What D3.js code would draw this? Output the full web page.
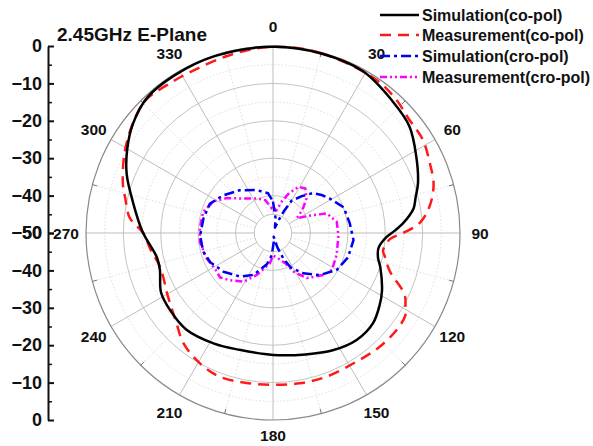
<!DOCTYPE html>
<html><head><meta charset="utf-8">
<script src="https://cdn.jsdelivr.net/npm/d3@7"></script>
<style>
html,body{margin:0;padding:0;background:#fff;}
svg{display:block;}
text{font-family:"Liberation Sans",Arial,sans-serif;font-weight:bold;fill:#111;}
</style></head>
<body>
<svg id="chart" width="593" height="446"></svg>
<script>
// ---- data (angle in degrees clockwise from top, value in dB) ----
const title = "2.45GHz E-Plane";
const seriesNames = ["Simulation(co-pol)","Measurement(co-pol)","Simulation(cro-pol)","Measurement(cro-pol)"];
const angleLabels = [0,30,60,90,120,150,180,210,240,270,300,330];
const radialTicks = [0,-10,-20,-30,-40,-50];

const simCoAngles = [0,15,29,42,52,62,71,76,80,83,86,89,92,98,103,108,118,124,132,142,153,165,180,196,208,222,233,242,252,258,267,271,282,292,300,308,317,328,342];
const simCoValues = [-0.2,-0.3,-0.5,-2.4,-3.7,-6.6,-9,-10.7,-11.8,-13.4,-15.3,-17.5,-19.6,-21.5,-21.2,-19.8,-17,-15.6,-14,-13.7,-14.8,-16.4,-17.4,-17.5,-16.5,-15.3,-15.6,-16.1,-18.2,-18.3,-16.2,-15,-11.8,-7.8,-5,-2.5,-0.6,-0.3,-0.2];

const measCoAngles = [0,15,34,43,50,58,66,73,80,86,90,93,99,102,108,115,119,122,128,137,147,160,170,180,190,200,209,219,228,239,253,262,270,276,283,288,298,307,316,324,334,347];
const measCoValues = [-0.2,-0.2,-0.6,-1.5,-2.6,-2.8,-4.1,-5.1,-7.4,-10.6,-15.2,-18.7,-20.2,-19.4,-17.2,-11.2,-9.5,-8.3,-8,-8.3,-9,-9,-9.2,-9.4,-9.3,-9,-10,-12,-15,-17.2,-18.5,-17,-15.3,-11.5,-9.5,-7.8,-5,-2.7,-0.8,-1.3,-1.6,-1];

const simCroAngles = [0,10,20,25,27,30,38,45,52,59,70,83,95,108,120,132,143,153,158,163,170,176,183,191,205,217,232,245,255,268,282,295,307,322,339,353];
const simCroValues = [-41.6,-46,-48.5,-45,-43,-40,-37.5,-34.9,-33.5,-32.2,-29.9,-29.3,-28.4,-28.9,-30.3,-33.2,-36.5,-39.7,-42.7,-46,-49,-47.5,-44.1,-41.5,-37.6,-35.4,-33.2,-31.5,-30.7,-30.5,-31,-31.4,-33.3,-35.5,-37.7,-39.3];

const measCroAngles = [0,8,16,22,29,36,44,52,58,66,70,80,92,109,122,130,143,152,158,168,180,186,201,211,222,230,238,249,263,274,287,298,307,319,335,347,357];
const measCroValues = [-43,-44,-41,-38.5,-35.9,-35.3,-37.1,-40,-42.5,-38.2,-34.7,-32.7,-32.5,-32,-31.4,-32.5,-34.9,-38.3,-41.3,-43,-44,-41.8,-38,-34.8,-33,-31.5,-31.8,-31,-30.3,-30.4,-30.5,-32,-34.5,-37.8,-39.8,-41,-43.4];

// ---- layout ----
const cx = 273, cy = 233, R = 187;
const svg = d3.select("#chart");
const rScale = d3.scaleLinear().domain([-50, 0]).range([0, R]);
const g = svg.append("g").attr("transform", `translate(${cx},${cy})`);
const rad = a => (a - 90) * Math.PI / 180;

// grid circles
const solidCircles = [-45,-40,-30,-20,-10];
const dotCircles = [-35,-25,-15,-5];
g.selectAll("circle.solid").data(solidCircles).join("circle")
  .attr("r", d => rScale(d)).attr("fill","none").attr("stroke","#c4c4c4").attr("stroke-width",1);
g.selectAll("circle.dot").data(dotCircles).join("circle")
  .attr("r", d => rScale(d)).attr("fill","none").attr("stroke","#d4d4d4").attr("stroke-width",0.8).attr("stroke-dasharray","1.5,2");
// spokes
const spokeAngles = d3.range(0, 360, 15);
g.selectAll("line.spoke").data(spokeAngles).join("line")
  .attr("x1", a => rScale(-45)*Math.cos(rad(a))).attr("y1", a => rScale(-45)*Math.sin(rad(a)))
  .attr("x2", a => R*Math.cos(rad(a))).attr("y2", a => R*Math.sin(rad(a)))
  .attr("stroke", a => a % 30 === 0 ? "#bdbdbd" : "#d4d4d4")
  .attr("stroke-width", a => a % 30 === 0 ? 1 : 0.8)
  .attr("stroke-dasharray", a => a % 30 === 0 ? null : "1.5,2");
// outer circle
g.append("circle").attr("r", R).attr("fill","none").attr("stroke","#8a8a8a").attr("stroke-width",1.2);
// outer minor ticks
g.selectAll("line.otick").data(spokeAngles.filter(a => a % 30 !== 0)).join("line")
  .attr("x1", a => R*Math.cos(rad(a))).attr("y1", a => R*Math.sin(rad(a)))
  .attr("x2", a => (R-5)*Math.cos(rad(a))).attr("y2", a => (R-5)*Math.sin(rad(a)))
  .attr("stroke","#777").attr("stroke-width",1);

// angle labels
g.selectAll("text.alab").data(angleLabels).join("text")
  .attr("x", a => 207*Math.cos(rad(a))).attr("y", a => (a === 180 ? 202 : 207)*Math.sin(rad(a)))
  .attr("text-anchor","middle").attr("dominant-baseline","central")
  .attr("font-size", 15.5).text(a => a);

// ---- series ----
function pts(angles, values){ return angles.map((a,i) => ({a, v: values[i]})); }
const series = [
  {data: pts(simCoAngles, simCoValues), color:"#000000", dash:null, curve:d3.curveCatmullRomClosed.alpha(0.5)},
  {data: pts(measCoAngles, measCoValues), color:"#ff1a1a", dash:"11,7", curve:d3.curveCatmullRomClosed.alpha(0.5)},
  {data: pts(simCroAngles, simCroValues), color:"#0000ee", dash:"10,4,3,4", curve:d3.curveLinearClosed},
  {data: pts(measCroAngles, measCroValues), color:"#ff00ff", dash:"7,3,2,3,2,3", curve:d3.curveLinearClosed}
];
const drawOrder = [3,2,1,0];
drawOrder.forEach(i => {
  const s = series[i];
  const line = d3.lineRadial()
    .angle(d => d.a * Math.PI / 180)
    .radius(d => rScale(Math.max(-50, d.v)))
    .curve(s.curve);
  g.append("path").attr("d", line(s.data))
    .attr("fill","none").attr("stroke", s.color).attr("stroke-width", 2.5)
    .attr("stroke-dasharray", s.dash).attr("stroke-linejoin","round");
});

// ---- left radial axis ----
const axX = 48;
const yTop = d3.scaleLinear().domain([-50, 0]).range([cy, cy - R]);
const yBot = d3.scaleLinear().domain([-50, 0]).range([cy, cy + R]);
const axG = svg.append("g").attr("transform", `translate(${axX},0)`);
[yTop, yBot].forEach(sc => {
  const ax = axG.append("g").call(d3.axisLeft(sc).tickValues(radialTicks).tickSizeInner(-6).tickSizeOuter(0).tickPadding(6));
  ax.select(".domain").attr("stroke","#111").attr("stroke-width",2);
  ax.selectAll(".tick line").attr("stroke","#111").attr("stroke-width",2);
  ax.selectAll(".tick text").attr("font-size",18).attr("fill","#111")
    .attr("font-family","Liberation Sans, Arial, sans-serif").attr("font-weight","bold");
  const mn = axG.append("g").call(d3.axisLeft(sc).tickValues([-45,-35,-25,-15,-5]).tickSizeInner(-4).tickSizeOuter(0).tickFormat(""));
  mn.select(".domain").remove();
  mn.selectAll(".tick line").attr("stroke","#111").attr("stroke-width",1.5);
});

// ---- title ----
svg.append("text").attr("x", 57).attr("y", 41).attr("font-size", 19).text(title);

// ---- legend ----
const legY = [15, 35, 56, 77];
const lg = svg.append("g");
seriesNames.forEach((name, i) => {
  const s = series[i];
  lg.append("line").attr("x1", 380).attr("x2", 419).attr("y1", legY[i]).attr("y2", legY[i])
    .attr("stroke", s.color).attr("stroke-width", 2.5).attr("stroke-dasharray", s.dash);
  lg.append("text").attr("x", 422).attr("y", legY[i] + 5.5).attr("font-size", 16).text(name);
});
</script>
</body></html>
